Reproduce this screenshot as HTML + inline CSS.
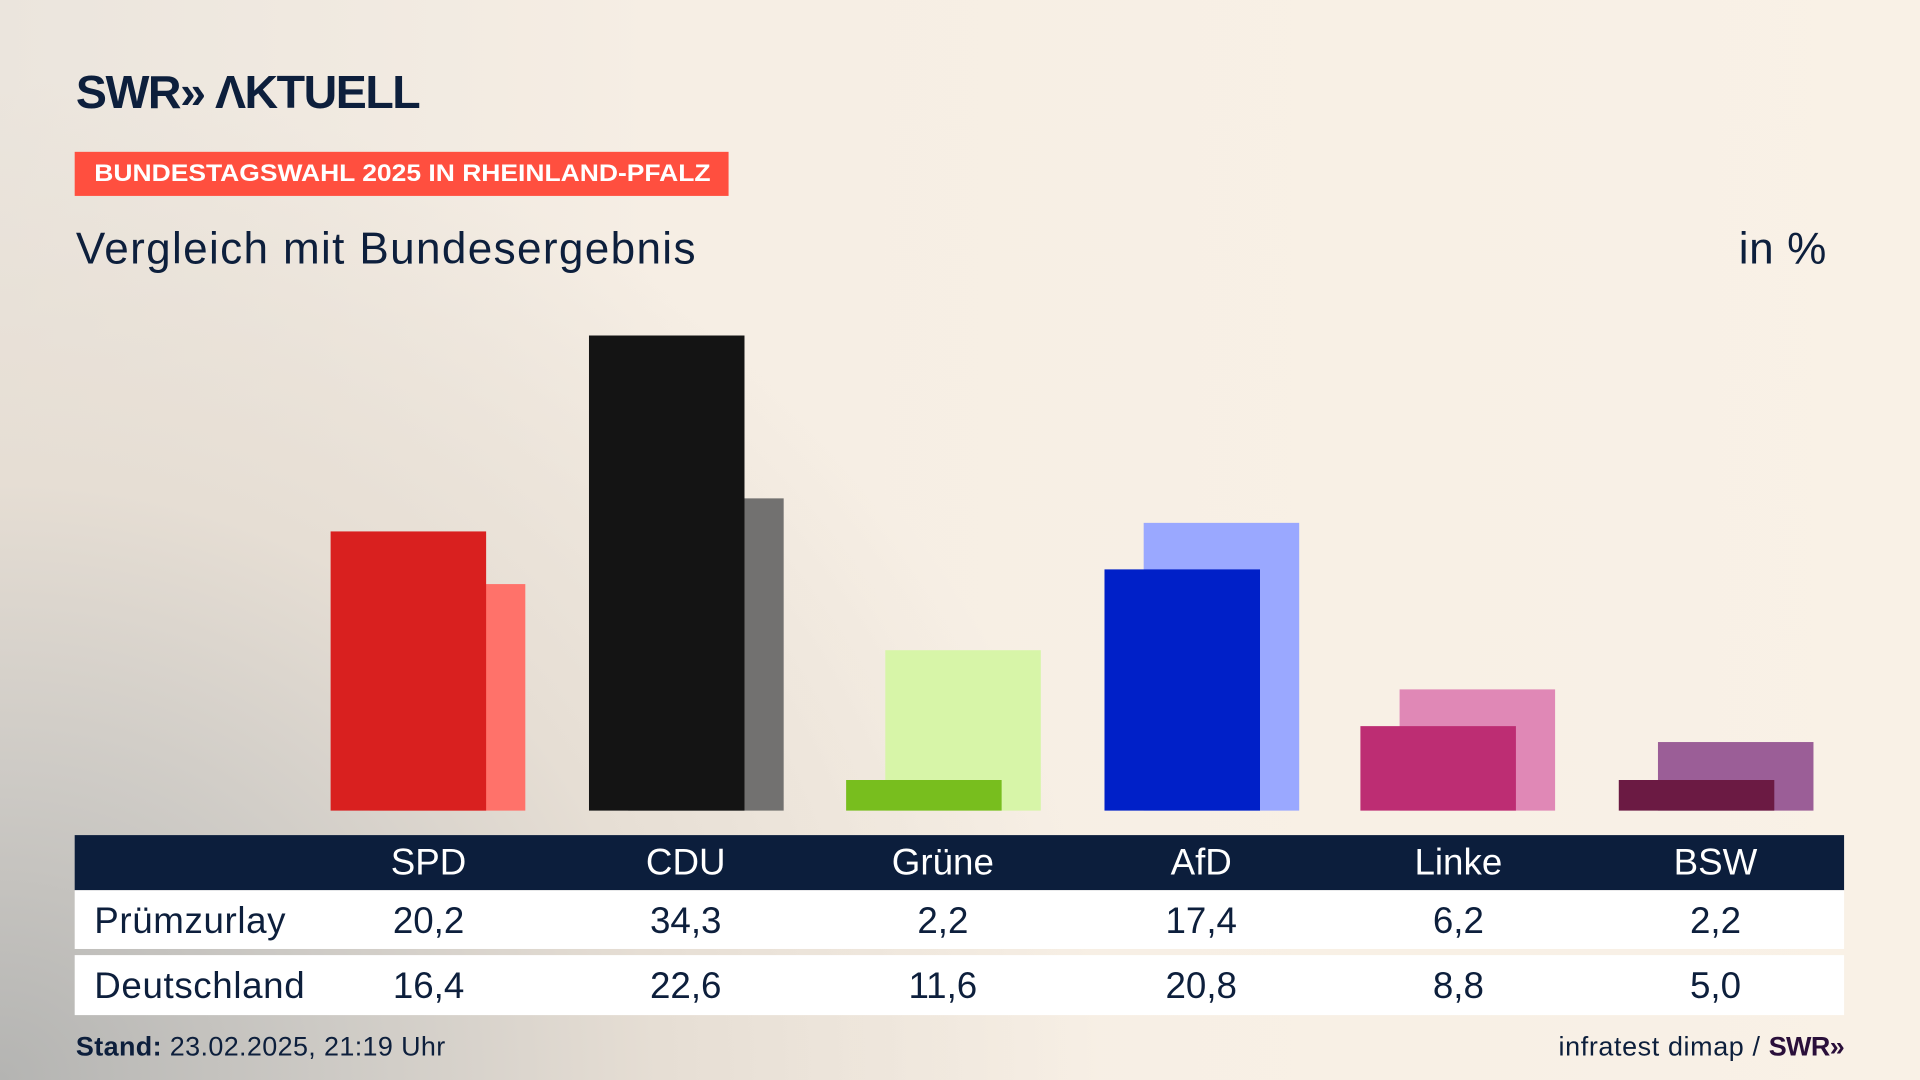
<!DOCTYPE html>
<html><head><meta charset="utf-8"><style>
html,body{margin:0;padding:0;width:1920px;height:1080px;overflow:hidden}
body{background:#f8f0e5}
#bg{position:absolute;left:0;top:0;width:1920px;height:1080px;
background:radial-gradient(ellipse 1100px 1000px at 0px 1080px,#b4b4b2 0%,#cdcac5 30%,#e6ded4 60%,rgba(246,238,228,0) 100%),linear-gradient(90deg,#ebe5dd 0%,#f6eee4 35%,#f9f1e6 100%)}
#w{position:absolute;left:0;top:0;width:1568px;height:882px;transform:scale(1.22449);transform-origin:0 0;font-family:"Liberation Sans",sans-serif;color:#0d1f3c}
.a{position:absolute}
.hd{position:absolute;top:682px;height:45px;left:61px;width:1445px;background:#0c1e3c}
.row{position:absolute;left:61px;width:1445px;background:#fff}
.c{position:absolute;width:160px;margin-left:-80px;text-align:center;font-size:30px}
</style></head><body><div id="bg"></div>
<div id="w">
<div class="a" style="left:62px;top:55px;font-size:38px;font-weight:bold;letter-spacing:-1.2px;white-space:nowrap">SWR<span style="letter-spacing:-2px">»</span>&nbsp;ΛKTUELL</div>
<div class="a" style="left:61px;top:124px;width:534px;height:36px;background:#ff4f3f"></div>
<div class="a" style="left:77px;top:131px;font-size:20px;font-weight:bold;color:#fff;white-space:nowrap;transform:scaleX(1.08);transform-origin:0 0">BUNDESTAGSWAHL 2025 IN RHEINLAND-PFALZ</div>
<div class="a" style="left:62px;top:182px;font-size:36px;letter-spacing:1.1px;white-space:nowrap">Vergleich mit Bundesergebnis</div>
<div class="a" style="left:1420px;top:182px;font-size:36px;letter-spacing:0.5px">in %</div>

<div class="a" style="left:302px;top:477px;width:127px;height:185px;background:#ff726a"></div>
<div class="a" style="left:270px;top:434px;width:127px;height:228px;background:#d9201f"></div>
<div class="a" style="left:513px;top:407px;width:127px;height:255px;background:#727170"></div>
<div class="a" style="left:481px;top:274px;width:127px;height:388px;background:#141414"></div>
<div class="a" style="left:723px;top:531px;width:127px;height:131px;background:#d7f5a8"></div>
<div class="a" style="left:691px;top:637px;width:127px;height:25px;background:#78be1e"></div>
<div class="a" style="left:934px;top:427px;width:127px;height:235px;background:#9aa8ff"></div>
<div class="a" style="left:902px;top:465px;width:127px;height:197px;background:#0020c8"></div>
<div class="a" style="left:1143px;top:563px;width:127px;height:99px;background:#e088b6"></div>
<div class="a" style="left:1111px;top:593px;width:127px;height:69px;background:#bd2d73"></div>
<div class="a" style="left:1354px;top:606px;width:127px;height:56px;background:#9b5e97"></div>
<div class="a" style="left:1322px;top:637px;width:127px;height:25px;background:#6b1a43"></div>

<div class="hd"></div>
<div class="row" style="top:727px;height:48px"></div>
<div class="row" style="top:780px;height:49px"></div>
<div class="c" style="left:350px;top:688px;color:#fff">SPD</div>
<div class="c" style="left:560px;top:688px;color:#fff">CDU</div>
<div class="c" style="left:770px;top:688px;color:#fff">Grüne</div>
<div class="c" style="left:981px;top:688px;color:#fff">AfD</div>
<div class="c" style="left:1191px;top:688px;color:#fff">Linke</div>
<div class="c" style="left:1401px;top:688px;color:#fff">BSW</div>
<div class="a" style="left:77px;top:736px;font-size:30px;letter-spacing:0.5px">Prümzurlay</div>
<div class="c" style="left:350px;top:736px">20,2</div>
<div class="c" style="left:560px;top:736px">34,3</div>
<div class="c" style="left:770px;top:736px">2,2</div>
<div class="c" style="left:981px;top:736px">17,4</div>
<div class="c" style="left:1191px;top:736px">6,2</div>
<div class="c" style="left:1401px;top:736px">2,2</div>
<div class="a" style="left:77px;top:789px;font-size:30px;letter-spacing:0.5px">Deutschland</div>
<div class="c" style="left:350px;top:789px">16,4</div>
<div class="c" style="left:560px;top:789px">22,6</div>
<div class="c" style="left:770px;top:789px">11,6</div>
<div class="c" style="left:981px;top:789px">20,8</div>
<div class="c" style="left:1191px;top:789px">8,8</div>
<div class="c" style="left:1401px;top:789px">5,0</div>

<div class="a" style="left:62px;top:842px;font-size:22px;white-space:nowrap;letter-spacing:0.3px"><b>Stand:</b> 23.02.2025, 21:19 Uhr</div>
<div class="a" style="right:62px;top:842px;font-size:22px;white-space:nowrap;text-align:right;letter-spacing:0.5px">infratest dimap / <b style="color:#2a0f3a;letter-spacing:-0.5px">SWR»</b></div>
</div>
</body></html>
